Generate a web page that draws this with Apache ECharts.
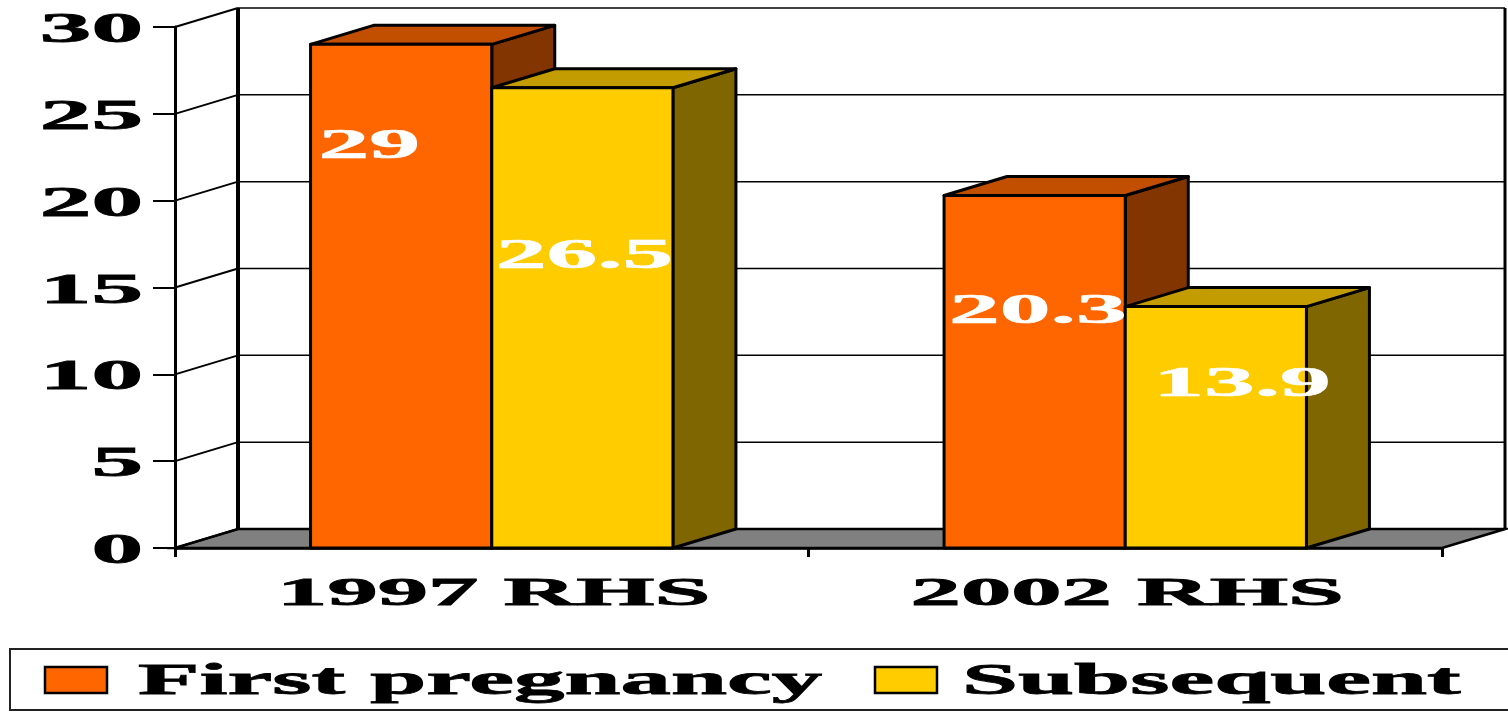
<!DOCTYPE html>
<html>
<head>
<meta charset="utf-8">
<script src="https://cdn.jsdelivr.net/npm/echarts@6/dist/echarts.min.js"></script>
<style>
  html, body { margin: 0; padding: 0; background: #fff; }
  #chart { width: 1508px; height: 713px; }
</style>
</head>
<body>
<div id="chart"></div>
<script>
// data
const categories = ['1997 RHS', '2002 RHS'];
const seriesNames = ['First pregnancy', 'Subsequent'];
const firstPregnancy = [29, 20.3];
const subsequent = [26.5, 13.9];
const yTicks = [0, 5, 10, 15, 20, 25, 30];

// look
const FONT = '"Liberation Serif", "Times New Roman", serif';
const DEPTH = [63, -19];           // 3d offset of the back plane
const BAR_RATIO = 0.286;           // bar width as part of a category band
const palettes = [
  { front: '#ff6600', top: '#c24e00', side: '#833500' },
  { front: '#ffcc00', top: '#c29c00', side: '#806600' }
];
// value labels were hand placed in the original: [dx from bar left, dy from bar top]
const labelNudge = [
  [[8, 103], [5, 116]],
  [[4, 169], [28, 78]]
];

const chart = echarts.init(document.getElementById('chart'));

function wallItem(params, api) {
  const cs = params.coordSys;
  const [dx, dy] = DEPTH;
  const v = api.value(1);
  const y = api.coord([0, v])[1];
  const left = cs.x, right = cs.x + cs.width;
  const kids = [];
  if (params.dataIndex === 0) {
    const yTop = api.coord([0, yTicks[yTicks.length - 1]])[1];
    kids.push({
      type: 'polygon',
      shape: { points: [[left, y], [left + dx, y + dy], [right + dx, y + dy], [right, y]] },
      style: { fill: '#808080', stroke: '#000', lineWidth: 2.5 }
    });
    kids.push({
      type: 'line',
      shape: { x1: left + dx, y1: yTop + dy, x2: left + dx, y2: y + dy },
      style: { stroke: '#000', lineWidth: 4 }
    });
    kids.push({
      type: 'line',
      shape: { x1: right + dx, y1: yTop + dy, x2: right + dx, y2: y + dy },
      style: { stroke: '#000', lineWidth: 3 }
    });
  } else {
    kids.push({
      type: 'line',
      shape: { x1: left + dx, y1: y + dy, x2: right + dx, y2: y + dy },
      style: { stroke: '#000', lineWidth: 1.5 }
    });
  }
  kids.push({
    type: 'line',
    shape: { x1: left, y1: y, x2: left + dx, y2: y + dy },
    style: { stroke: '#000', lineWidth: 2 }
  });
  kids.push({
    type: 'text',
    x: left - 32, y: y + 4, scaleX: 2.4,
    style: { text: String(v), fill: '#000', stroke: '#000', lineWidth: 0.8,
      font: 'bold 43px ' + FONT, align: 'right', verticalAlign: 'middle' }
  });
  return { type: 'group', children: kids };
}

function barItem(sIdx) {
  return function (params, api) {
    const cat = api.value(0), val = api.value(1);
    const band = api.size([1, 0])[0];
    const w = band * BAR_RATIO;
    const c = api.coord([cat, val]);
    const base = api.coord([cat, 0]);
    const x0 = c[0] - w + sIdx * w, x1 = x0 + w;
    const yt = c[1], yb = base[1];
    const [dx, dy] = DEPTH;
    const pal = palettes[sIdx];
    const edge = { stroke: '#000', lineWidth: 3, lineJoin: 'round' };
    const nudge = labelNudge[sIdx][params.dataIndex];
    return {
      type: 'group',
      children: [
        { type: 'polygon', shape: { points: [[x1, yb], [x1 + dx, yb + dy], [x1 + dx, yt + dy], [x1, yt]] },
          style: Object.assign({ fill: pal.side }, edge) },
        { type: 'polygon', shape: { points: [[x0, yt], [x0 + dx, yt + dy], [x1 + dx, yt + dy], [x1, yt]] },
          style: Object.assign({ fill: pal.top }, edge) },
        { type: 'rect', shape: { x: x0, y: yt, width: w, height: yb - yt },
          style: Object.assign({ fill: pal.front }, edge) },
        { type: 'text', x: x0 + nudge[0], y: yt + nudge[1], scaleX: 2.36, z2: 50,
          style: { text: String(val), fill: '#fff', stroke: '#fff', lineWidth: 0.6,
            font: 'bold 43px ' + FONT, align: 'left', verticalAlign: 'middle' } }
      ]
    };
  };
}

function catLabelItem(params, api) {
  const p = api.coord([api.value(0), 0]);
  return {
    type: 'text', x: p[0] + 2, y: p[1] + 47, scaleX: 2.58,
    style: { text: categories[params.dataIndex], fill: '#000', stroke: '#000', lineWidth: 0.8,
      font: 'bold 39px ' + FONT, align: 'center', verticalAlign: 'middle' }
  };
}

const legendSwatchX = [45, 875];
const legendTextX = [138, 962];
const legendGraphics = [{
  type: 'rect', shape: { x: 10, y: 649, width: 1510, height: 61 },
  style: { fill: 'none', stroke: '#222', lineWidth: 2 }
}];
seriesNames.forEach((name, i) => {
  legendGraphics.push({
    type: 'rect', shape: { x: legendSwatchX[i], y: 667, width: 62, height: 26 },
    style: { fill: palettes[i].front, stroke: '#000', lineWidth: 2.5 }
  });
  legendGraphics.push({
    type: 'text', x: legendTextX[i], y: 682, scaleX: 2.24,
    style: { text: name, fill: '#000', stroke: '#000', lineWidth: 0.8,
      font: 'bold 45px ' + FONT, align: 'left', verticalAlign: 'middle' }
  });
});

const option = {
  backgroundColor: '#fff',
  animation: false,
  grid: { left: 175, right: 66, top: 27, bottom: 165 },
  xAxis: {
    type: 'category',
    data: categories,
    axisLine: { show: true, lineStyle: { color: '#000', width: 2.5 } },
    axisTick: { show: true, length: 9, lineStyle: { color: '#000', width: 3 } },
    axisLabel: { show: false },
    splitLine: { show: false }
  },
  yAxis: {
    type: 'value',
    min: 0, max: 30, interval: 5,
    axisLine: { show: true, lineStyle: { color: '#000', width: 3 } },
    axisTick: { show: true, length: 22, lineStyle: { color: '#000', width: 2 } },
    axisLabel: { show: false },
    splitLine: { show: false }
  },
  graphic: legendGraphics,
  series: [
    { type: 'custom', name: 'wall', renderItem: wallItem, data: yTicks.map(v => [0, v]), silent: true },
    { type: 'custom', name: seriesNames[0], renderItem: barItem(0), data: firstPregnancy.map((v, i) => [i, v]) },
    { type: 'custom', name: seriesNames[1], renderItem: barItem(1), data: subsequent.map((v, i) => [i, v]) },
    { type: 'custom', name: 'categories', renderItem: catLabelItem, data: categories.map((c, i) => [i, 0]), silent: true }
  ]
};
chart.setOption(option);
</script>
</body>
</html>
